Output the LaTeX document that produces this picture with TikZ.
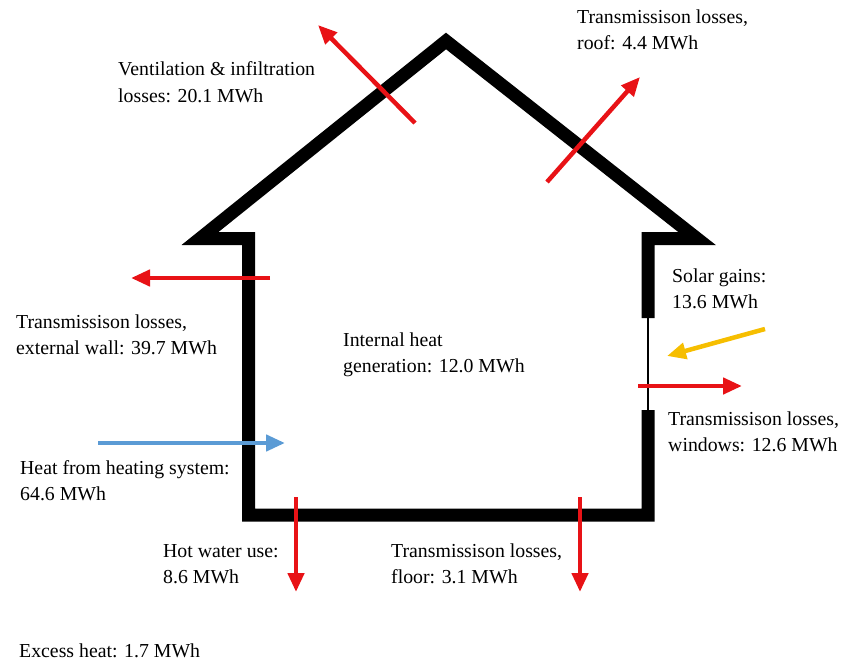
\documentclass[tikz,border=0pt]{standalone}
\usepackage{fontspec}
\setmainfont{Liberation Serif}
\usetikzlibrary{arrows.meta}
\definecolor{arrred}{RGB}{232,18,22}
\definecolor{arrblue}{RGB}{91,155,213}
\definecolor{arryellow}{RGB}{246,190,0}
\begin{document}
\begin{tikzpicture}[x=1pt,y=-1pt,
  wall/.style={line width=13pt, line join=miter, line cap=butt, draw=black},
  glass/.style={line width=2pt, draw=black},
  flow/.style={line width=4.5pt, -{Triangle[length=19pt,width=16pt]}},
  lbl/.style={anchor=base west, inner sep=0pt, align=left, font=\fontsize{19.8}{26}\selectfont}]
\useasboundingbox (0,0) rectangle (843,661);
% house outline
\coordinate (winTop) at (648,318);
\coordinate (rTop) at (648,238.5);
\coordinate (rEave) at (697,238.5);
\coordinate (peak) at (446,41);
\coordinate (lEave) at (200,238.5);
\coordinate (lTop) at (248.5,238.5);
\coordinate (lBot) at (248.5,515);
\coordinate (rBot) at (648,515);
\coordinate (winBot) at (648,410);
\draw[wall] (winTop) -- (rTop) -- (rEave) -- (peak) -- (lEave) -- (lTop) -- (lBot) -- (rBot) -- (winBot);
\draw[glass] (winTop) -- (winBot);
% arrow end points
\coordinate (ventA) at (415,123); \coordinate (ventB) at (318,25);
\coordinate (roofA) at (547,182); \coordinate (roofB) at (640,77);
\coordinate (extA) at (270,278); \coordinate (extB) at (131,278);
\coordinate (heatA) at (98,443); \coordinate (heatB) at (285,443);
\coordinate (solA) at (765,329); \coordinate (solB) at (667,356);
\coordinate (winA) at (638,386); \coordinate (winB) at (742,386);
\coordinate (hwA) at (296,497); \coordinate (hwB) at (296,592);
\coordinate (flA) at (580,497); \coordinate (flB) at (580,592);
\draw[flow, arrred] (ventA) -- (ventB);
\draw[flow, arrred] (roofA) -- (roofB);
\draw[flow, arrred] (extA) -- (extB);
\draw[flow, arrblue] (heatA) -- (heatB);
\draw[flow, arryellow] (solA) -- (solB);
\draw[flow, arrred] (winA) -- (winB);
\draw[flow, arrred] (hwA) -- (hwB);
\draw[flow, arrred] (flA) -- (flB);
% labels (base = baseline of last line)
\node[lbl] (roofT) at (577,50) {Transmissison losses,\\roof: 4.4 MWh};
\node[lbl] (ventT) at (118,102) {Ventilation \& infiltration\\losses: 20.1 MWh};
\node[lbl] (extT) at (16,354) {Transmissison losses,\\external wall: 39.7 MWh};
\node[lbl] (intT) at (343,372) {Internal heat\\generation: 12.0 MWh};
\node[lbl] (solT) at (672,308) {Solar gains:\\13.6 MWh};
\node[lbl] (winT) at (668,451) {Transmissison losses,\\windows: 12.6 MWh};
\node[lbl] (heatT) at (20,500) {Heat from heating system:\\64.6 MWh};
\node[lbl] (hwT) at (163,583) {Hot water use:\\8.6 MWh};
\node[lbl] (flT) at (391,583) {Transmissison losses,\\floor: 3.1 MWh};
\node[lbl] (exT) at (19,657) {Excess heat: 1.7 MWh};
\end{tikzpicture}
\end{document}
